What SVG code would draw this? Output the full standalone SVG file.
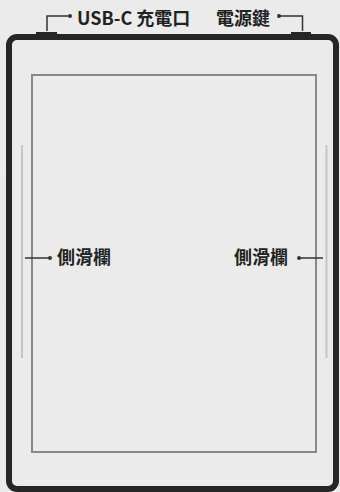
<svg xmlns="http://www.w3.org/2000/svg" width="340" height="492" viewBox="0 0 340 492">
  <style>
    .lbl { font-family: "Noto Sans CJK TC", "Noto Sans", sans-serif; font-weight: 700; font-size: 18px; fill: #222; }
    .lead { fill: none; stroke: #333; stroke-width: 1.5; }
    .dot { fill: #333; }
  </style>
  <rect x="0" y="0" width="340" height="492" fill="#ebebeb"/>
  <g id="device">
    <rect x="9" y="37" width="327" height="452" rx="8" fill="#ebebeb" stroke="#262626" stroke-width="6"/>
  </g>
  <g id="usb-port">
    <rect x="36" y="32" width="21" height="3" fill="#262626"/>
  </g>
  <g id="power-button">
    <rect x="291" y="32" width="20" height="3" fill="#262626"/>
  </g>
  <g id="screen">
    <rect x="32" y="75" width="284" height="377" fill="none" stroke="#888" stroke-width="2"/>
  </g>
  <g id="left-rail">
    <line x1="22" y1="145" x2="22" y2="358" stroke="#c4c4c4" stroke-width="2"/>
  </g>
  <g id="right-rail">
    <line x1="326.5" y1="145" x2="326.5" y2="358" stroke="#c4c4c4" stroke-width="2"/>
  </g>
  <g id="connectors">
    <polyline class="lead" points="70,16 47,16 47,31"/>
    <circle class="dot" cx="70" cy="16" r="2"/>
    <polyline class="lead" points="279,16 302.5,16 302.5,31"/>
    <circle class="dot" cx="279" cy="16" r="2"/>
    <line class="lead" x1="25" y1="258" x2="50" y2="258"/>
    <circle class="dot" cx="50" cy="258" r="2"/>
    <line class="lead" x1="299" y1="258" x2="323" y2="258"/>
    <circle class="dot" cx="299" cy="258" r="2"/>
  </g>
  <g id="label-usb">
    <text class="lbl" x="77" y="25">USB-C 充電口</text>
  </g>
  <g id="label-power">
    <text class="lbl" x="216" y="25">電源鍵</text>
  </g>
  <g id="label-left">
    <text class="lbl" x="57" y="264">側滑欄</text>
  </g>
  <g id="label-right">
    <text class="lbl" x="234" y="264">側滑欄</text>
  </g>
</svg>
